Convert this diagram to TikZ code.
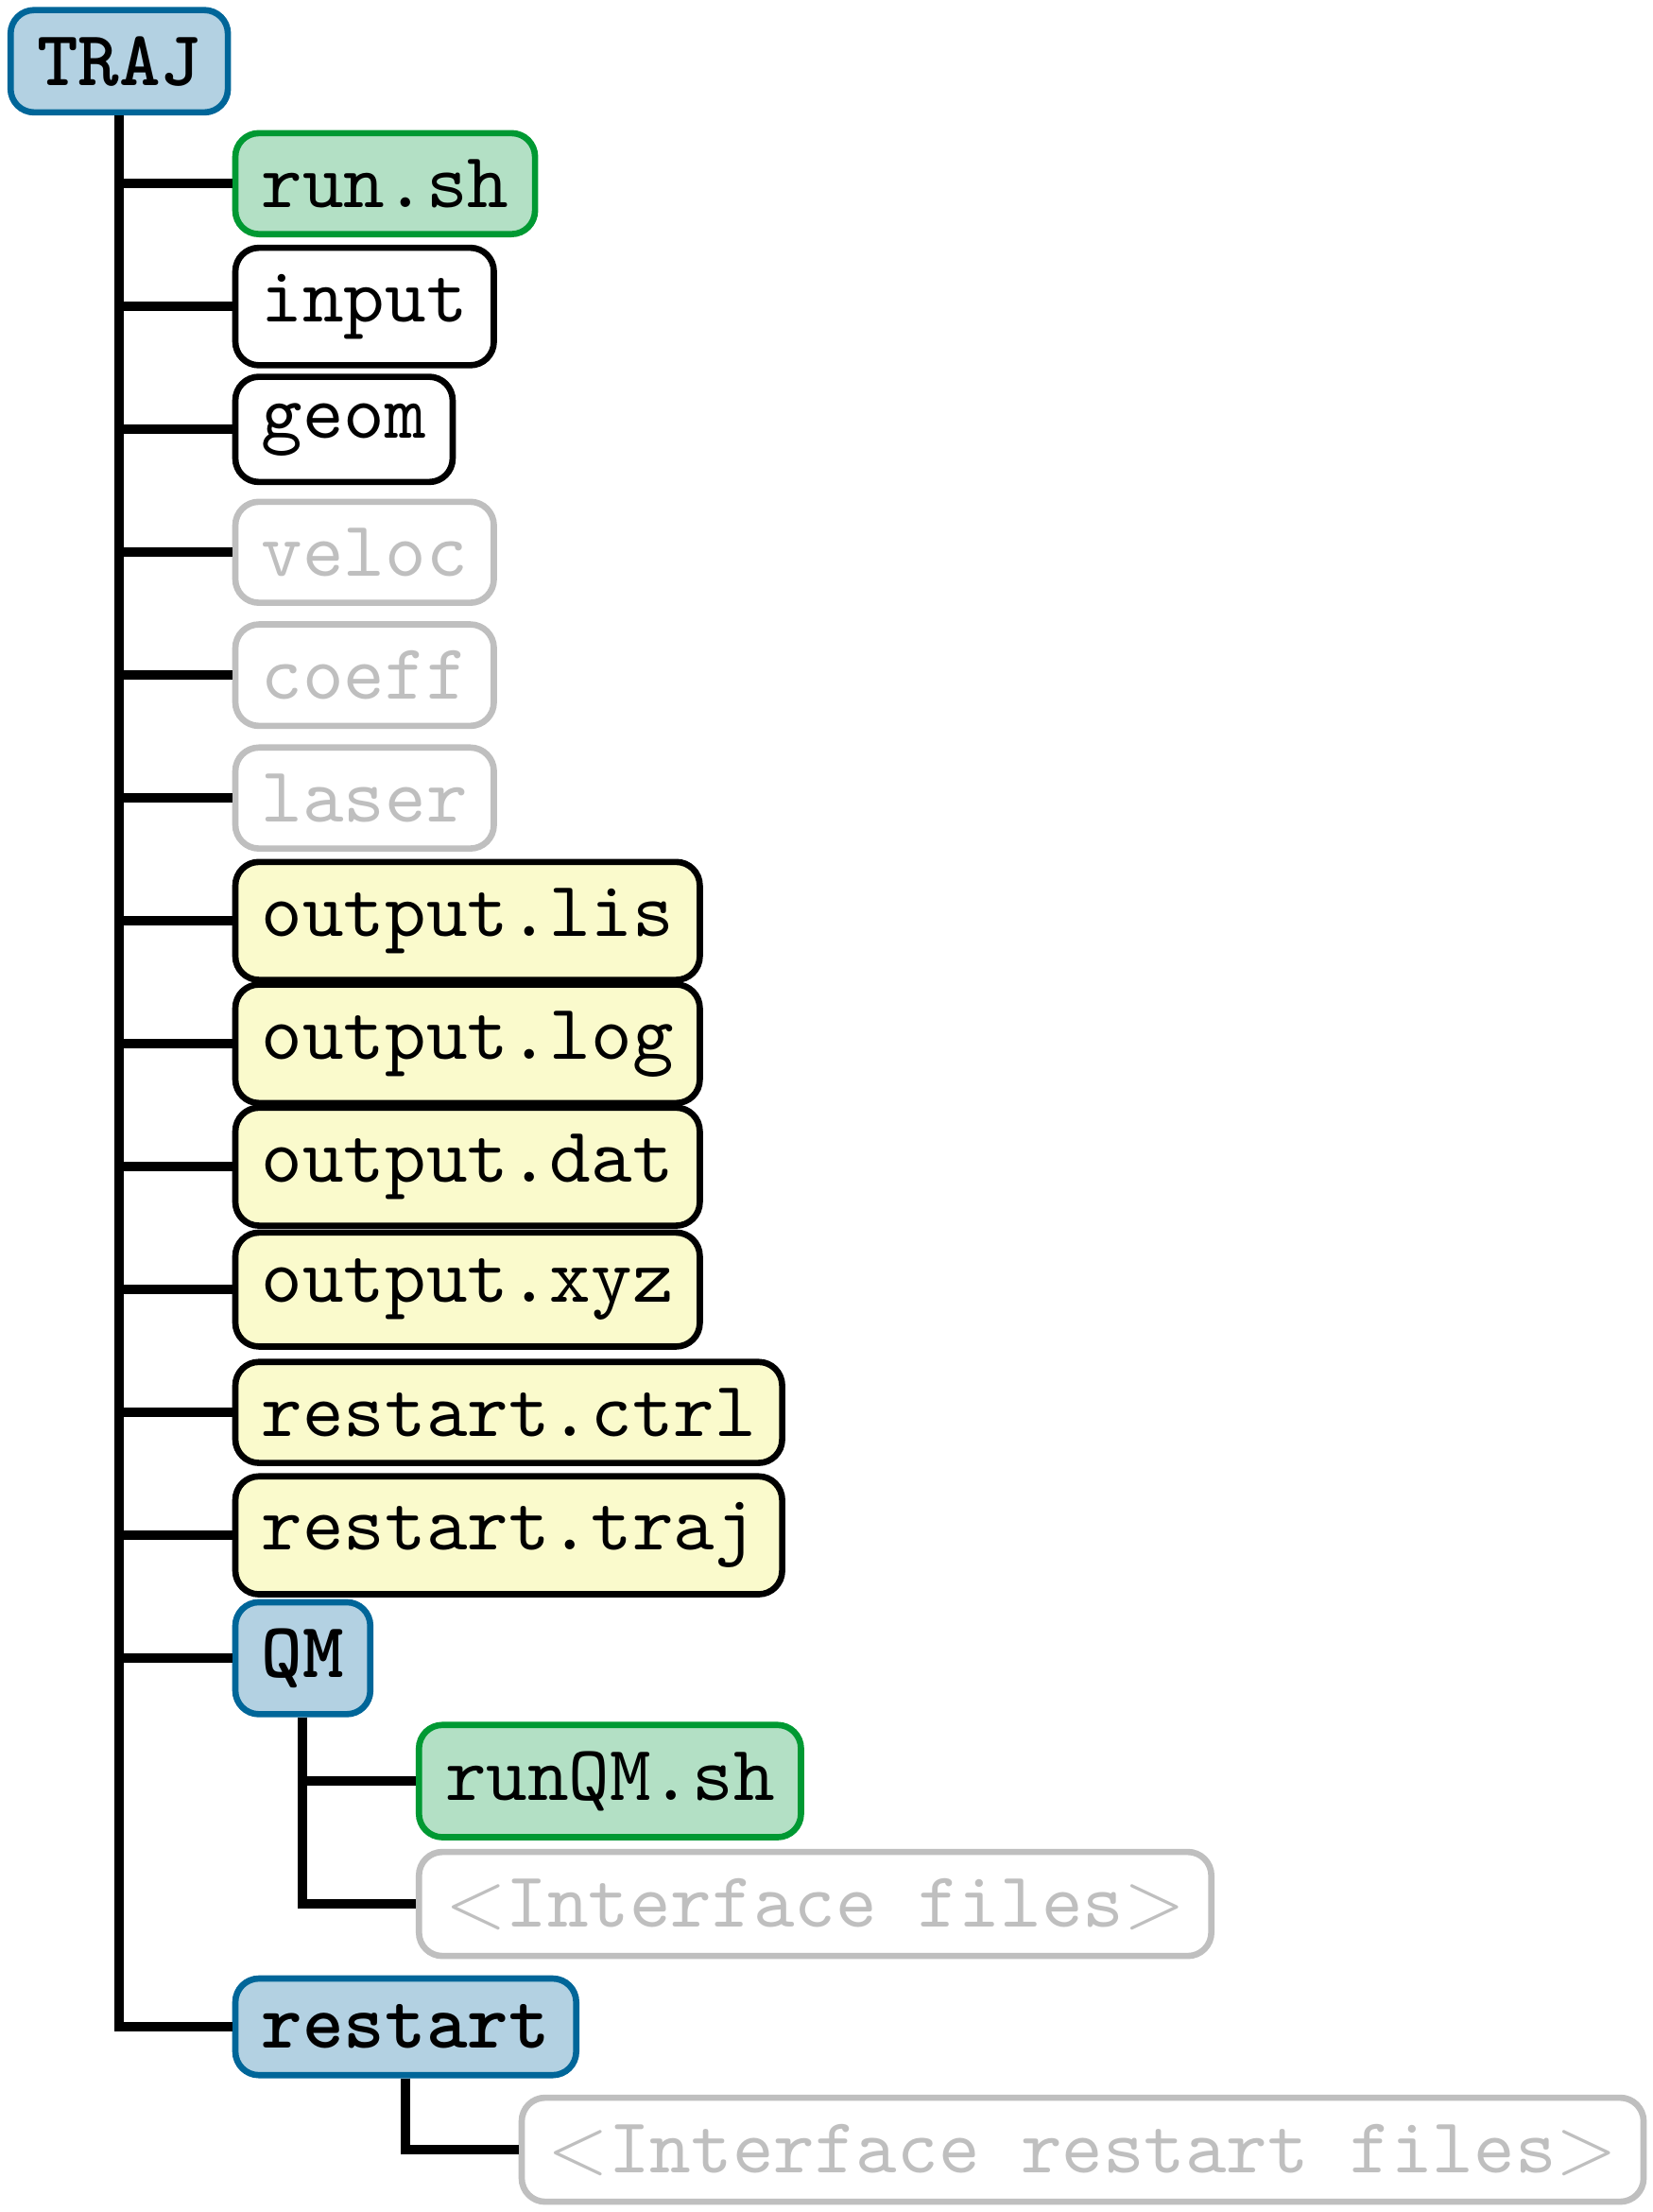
\documentclass[tikz,border=0pt]{standalone}
\usepackage{fontspec}
\usepackage{tikz}

\definecolor{dirfill}{RGB}{179,209,226}
\definecolor{dirline}{RGB}{0,102,153}
\definecolor{scriptfill}{RGB}{179,224,197}
\definecolor{scriptline}{RGB}{0,153,51}
\definecolor{outfill}{RGB}{250,250,204}
\definecolor{optgray}{RGB}{191,191,191}

\begin{document}
\begin{tikzpicture}[
    x=1pt, y=1pt,
    file/.style={rectangle, rounded corners=3pt, draw, thick, fill=white, inner sep=3.35pt, anchor=west, font=\ttfamily},
    dir/.style={file, draw=dirline, fill=dirfill, font=\ttfamily\bfseries},
    script/.style={file, draw=scriptline, fill=scriptfill},
    outfile/.style={file, fill=outfill},
    optfile/.style={file, draw=optgray, text=optgray},
    link/.style={very thick}
]
\useasboundingbox (0,0) rectangle (210.6,-281.9);
\node[dir, anchor=center] (TRAJ) at (15.2,-7.8) {TRAJ};
\node[script] (run) at (29.6,-23.40) {run.sh};
\node[file] (input) at (29.6,-39.06) {input};
\node[file] (geom) at (29.6,-54.72) {geom};
\node[optfile] (veloc) at (29.6,-70.38) {veloc};
\node[optfile] (coeff) at (29.6,-86.04) {coeff};
\node[optfile] (laser) at (29.6,-101.70) {laser};
\node[outfile] (lis) at (29.6,-117.36) {output.lis};
\node[outfile] (log) at (29.6,-133.02) {output.log};
\node[outfile] (dat) at (29.6,-148.68) {output.dat};
\node[outfile] (xyz) at (29.6,-164.34) {output.xyz};
\node[outfile] (ctrl) at (29.6,-180.00) {restart.ctrl};
\node[outfile] (trj) at (29.6,-195.66) {restart.traj};
\node[dir] (QM) at (29.6,-211.32) {QM};
\node[script] (runQM) at (53.0,-226.98) {runQM.sh};
\node[optfile] (qmfiles) at (53.0,-242.64) {$<$Interface files$>$};
\node[dir] (restart) at (29.6,-258.30) {restart};
\node[optfile] (rstfiles) at (66.1,-273.96) {$<$Interface restart files$>$};
% tree lines
\draw[link] (TRAJ.south) |- (restart.west);
\draw[link] (TRAJ.south |- run.west) -- (run.west);
\draw[link] (TRAJ.south |- input.west) -- (input.west);
\draw[link] (TRAJ.south |- geom.west) -- (geom.west);
\draw[link] (TRAJ.south |- veloc.west) -- (veloc.west);
\draw[link] (TRAJ.south |- coeff.west) -- (coeff.west);
\draw[link] (TRAJ.south |- laser.west) -- (laser.west);
\draw[link] (TRAJ.south |- lis.west) -- (lis.west);
\draw[link] (TRAJ.south |- log.west) -- (log.west);
\draw[link] (TRAJ.south |- dat.west) -- (dat.west);
\draw[link] (TRAJ.south |- xyz.west) -- (xyz.west);
\draw[link] (TRAJ.south |- ctrl.west) -- (ctrl.west);
\draw[link] (TRAJ.south |- trj.west) -- (trj.west);
\draw[link] (TRAJ.south |- QM.west) -- (QM.west);
\draw[link] (QM.south) |- (qmfiles.west);
\draw[link] (QM.south |- runQM.west) -- (runQM.west);
\draw[link] (restart.south) |- (rstfiles.west);
\end{tikzpicture}
\end{document}
